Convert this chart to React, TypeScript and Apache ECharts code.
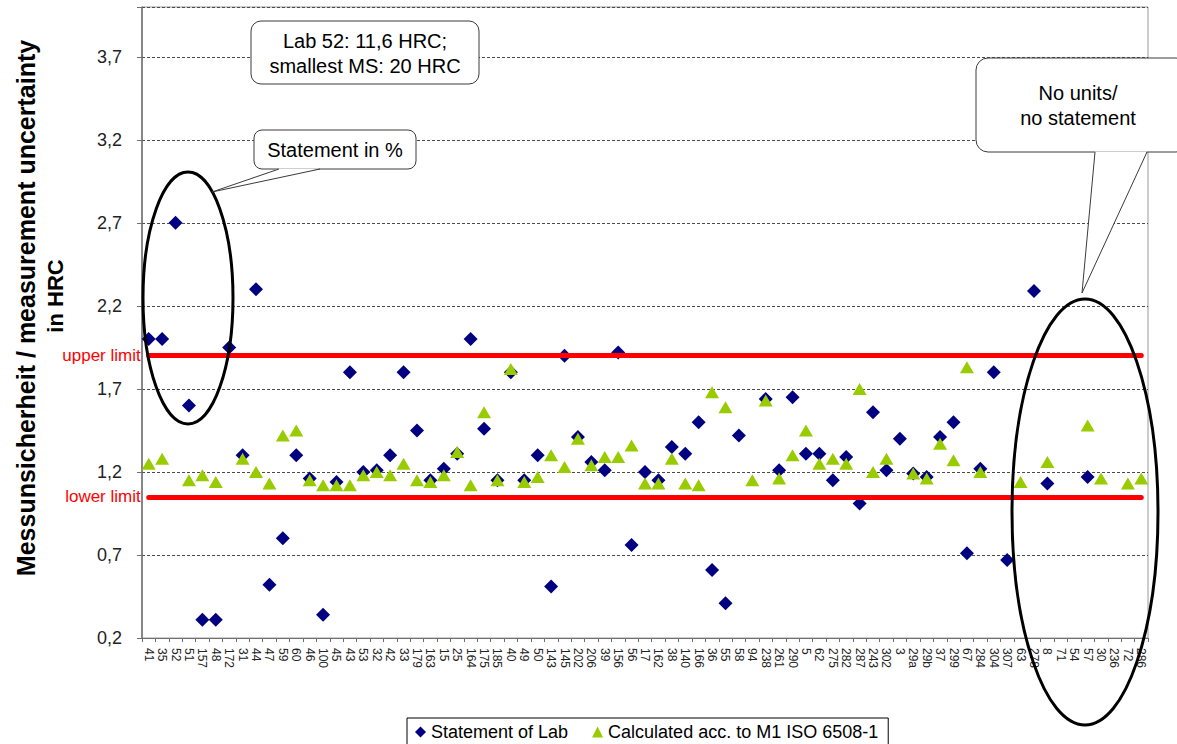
import React, { useEffect, useRef } from 'react';
import * as echarts from 'echarts';

const categories = [
  '41', '35', '52', '51', '157', '48', '172', '31', '44', '47',
  '59', '60', '46', '100', '45', '43', '53', '32', '42', '33',
  '179', '163', '15', '25', '164', '175', '185', '40', '49', '50',
  '143', '145', '202', '206', '39', '156', '56', '17', '162', '38',
  '140', '166', '36', '55', '58', '94', '238', '261', '290', '5',
  '62', '275', '282', '287', '243', '302', '3', '29a', '29b', '37',
  '299', '67', '284', '304', '307', '63', '278', '8', '71', '54',
  '57', '30', '236', '72', '286',
];

const labValues = [
  2.0, 2.0, 2.7, 1.6, 0.31, 0.31, 1.95, 1.3, 2.3, 0.52,
  0.8, 1.3, 1.16, 0.34, 1.14, 1.8, 1.2, 1.21, 1.3, 1.8,
  1.45, 1.15, 1.22, 1.31, 2.0, 1.46, 1.15, 1.8, 1.15, 1.3,
  0.51, 1.9, 1.41, 1.26, 1.21, 1.92, 0.76, 1.2, 1.15, 1.35,
  1.31, 1.5, 0.61, 0.41, 1.42, null, 1.64, 1.21, 1.65, 1.31,
  1.31, 1.15, 1.29, 1.01, 1.56, 1.21, 1.4, 1.19, 1.17, 1.41,
  1.5, 0.71, 1.22, 1.8, 0.67, null, 2.29, 1.13, null, null,
  1.17, null, null, null, null,
];

const calcValues = [
  1.25, 1.28, null, 1.15, 1.18, 1.14, null, 1.28, 1.2, 1.13,
  1.42, 1.45, 1.15, 1.12, 1.12, 1.12, 1.18, 1.2, 1.18, 1.25,
  1.15, 1.14, 1.18, 1.32, 1.12, 1.56, 1.15, 1.82, 1.14, 1.17,
  1.3, 1.23, 1.4, 1.24, 1.29, 1.29, 1.36, 1.13, 1.13, 1.28,
  1.13, 1.12, 1.68, 1.59, null, 1.15, 1.63, 1.16, 1.3, 1.45,
  1.25, 1.28, 1.25, 1.7, 1.2, 1.28, null, 1.19, 1.16, 1.37,
  1.27, 1.83, 1.2, null, null, 1.14, null, 1.26, null, null,
  1.48, 1.16, null, 1.13, 1.16,
];

const UPPER_LIMIT = 1.9;
const LOWER_LIMIT = 1.05;
const Y_MIN = 0.2;
const Y_MAX = 4.0;
const Y_STEP = 0.5;

const SERIES_LAB = 'Statement of Lab';
const SERIES_CALC = 'Calculated acc. to M1 ISO 6508-1';

const FONT = '"Liberation Sans", Arial, Helvetica, sans-serif';

export default function App() {
  const ref = useRef<HTMLDivElement>(null);

  useEffect(() => {
    if (!ref.current) return;
    const chart = echarts.init(ref.current, null, { renderer: 'svg' });
    const last = categories.length - 1;

    const boxStyle = { fill: '#ffffff', stroke: '#3a3a3a', lineWidth: 1 };
    const boxText = (x: number, y: number, text: string) => ({
      type: 'text',
      x,
      y,
      z: 102,
      style: {
        text,
        font: `20px ${FONT}`,
        fill: '#000',
        align: 'center',
        verticalAlign: 'middle',
        lineHeight: 25,
      },
    });

    chart.setOption({
      animation: false,
      backgroundColor: '#ffffff',
      textStyle: { fontFamily: FONT },
      grid: {
        left: 142,
        top: 7,
        width: 1006,
        height: 631,
        show: true,
        borderColor: '#9a9a9a',
        borderWidth: 1,
        backgroundColor: 'transparent',
      },
      legend: {
        left: 407,
        top: 718,
        padding: [5, 10, 5, 8],
        itemWidth: 11,
        itemHeight: 11,
        itemGap: 24,
        borderColor: '#000',
        borderWidth: 1,
        borderRadius: 0,
        textStyle: { fontSize: 18, color: '#000', fontFamily: FONT },
        data: [
          { name: SERIES_LAB, icon: 'diamond' },
          { name: SERIES_CALC, icon: 'triangle' },
        ],
      },
      xAxis: {
        type: 'category',
        data: categories,
        boundaryGap: true,
        axisLine: { show: true, lineStyle: { color: '#6f6f6f', width: 1 } },
        axisTick: { show: true, interval: 0, length: 4, lineStyle: { color: '#6f6f6f' } },
        axisLabel: {
          interval: 0,
          rotate: -90,
          fontSize: 12,
          color: '#222',
          margin: 10,
          fontFamily: FONT,
        },
        splitLine: { show: false },
      },
      yAxis: {
        type: 'value',
        min: Y_MIN,
        max: Y_MAX,
        interval: Y_STEP,
        axisLine: { show: true, lineStyle: { color: '#6f6f6f', width: 1.5 } },
        axisTick: { show: true, length: 5, lineStyle: { color: '#6f6f6f' } },
        axisLabel: {
          fontSize: 18,
          color: '#222',
          margin: 20,
          fontFamily: FONT,
          formatter: (v: number) =>
            Math.abs(v - Y_MAX) < 1e-6 ? '' : v.toFixed(1).replace('.', ','),
        },
        splitLine: {
          show: true,
          lineStyle: { color: '#4a4a4a', type: [3, 2], width: 1 },
        },
      },
      series: [
        {
          name: SERIES_LAB,
          type: 'scatter',
          symbol: 'diamond',
          symbolSize: 14,
          itemStyle: { color: '#000080', opacity: 1 },
          emphasis: { disabled: true },
          data: labValues,
          z: 3,
          markLine: {
            silent: true,
            symbol: ['none', 'none'],
            animation: false,
            lineStyle: { color: '#ff0000', width: 5, type: 'solid', cap: 'round', opacity: 1 },
            label: {
              show: true,
              position: 'start',
              formatter: '{b}',
              color: '#ff0000',
              fontSize: 17,
              distance: 8,
              fontFamily: FONT,
            },
            emphasis: { disabled: true },
            data: [
              [
                { name: 'upper limit', coord: [0, UPPER_LIMIT] },
                { coord: [last, UPPER_LIMIT] },
              ],
              [
                { name: 'lower limit', coord: [0, LOWER_LIMIT] },
                { coord: [last, LOWER_LIMIT] },
              ],
            ],
          },
        },
        {
          name: SERIES_CALC,
          type: 'scatter',
          symbol: 'triangle',
          symbolSize: [14, 12],
          itemStyle: { color: '#99cc00', opacity: 1 },
          emphasis: { disabled: true },
          data: calcValues,
          z: 4,
        },
      ],
      graphic: [
        {
          type: 'text',
          x: 26,
          y: 308,
          rotation: Math.PI / 2,
          style: {
            text: 'Messunsicherheit / measurement uncertainty',
            font: `bold 25px ${FONT}`,
            fill: '#000',
            align: 'center',
            verticalAlign: 'middle',
          },
        },
        {
          type: 'text',
          x: 55,
          y: 296,
          rotation: Math.PI / 2,
          style: {
            text: 'in HRC',
            font: `bold 22px ${FONT}`,
            fill: '#000',
            align: 'center',
            verticalAlign: 'middle',
          },
        },
        // Lab 52 box
        {
          type: 'rect',
          z: 100,
          shape: { x: 251, y: 21, width: 228, height: 63, r: 10 },
          style: boxStyle,
        },
        boxText(365, 53, 'Lab 52: 11,6 HRC;\nsmallest MS: 20 HRC'),
        // Statement in % callout
        {
          type: 'rect',
          z: 100,
          shape: { x: 254, y: 130, width: 162, height: 39, r: 8 },
          style: boxStyle,
        },
        {
          type: 'polygon',
          z: 101,
          shape: { points: [[279, 168.5], [320, 168.5], [212, 192]] },
          style: { fill: '#ffffff' },
        },
        {
          type: 'polyline',
          z: 102,
          shape: { points: [[279, 169], [212, 192], [320, 169]] },
          style: { stroke: '#3a3a3a', lineWidth: 1, fill: 'none' },
        },
        boxText(335, 150, 'Statement in %'),
        // left ellipse
        {
          type: 'ellipse',
          z: 100,
          shape: { cx: 188, cy: 298, rx: 45, ry: 126 },
          style: { fill: 'none', stroke: '#000', lineWidth: 3 },
        },
        // right ellipse
        {
          type: 'ellipse',
          z: 100,
          shape: { cx: 1085, cy: 512, rx: 73, ry: 213 },
          style: { fill: 'none', stroke: '#000', lineWidth: 3 },
        },
        // No units callout
        {
          type: 'rect',
          z: 100,
          shape: { x: 976, y: 58, width: 212, height: 94, r: 12 },
          style: boxStyle,
        },
        {
          type: 'polygon',
          z: 101,
          shape: { points: [[1095, 151.5], [1147, 151.5], [1082, 293]] },
          style: { fill: '#ffffff' },
        },
        {
          type: 'polyline',
          z: 102,
          shape: { points: [[1095, 152], [1082, 293], [1147, 152]] },
          style: { stroke: '#3a3a3a', lineWidth: 1, fill: 'none' },
        },
        boxText(1078, 105, 'No units/\nno statement'),
      ],
    });

    return () => {
      chart.dispose();
    };
  }, []);

  return (
    <div
      ref={ref}
      style={{ position: 'fixed', left: 0, top: 0, width: 1177, height: 744, background: '#fff' }}
    />
  );
}
